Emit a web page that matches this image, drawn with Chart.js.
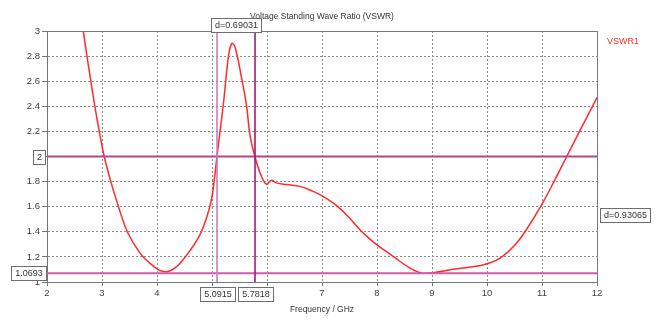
<!DOCTYPE html>
<html><head><meta charset="utf-8">
<script src="https://cdn.jsdelivr.net/npm/chart.js@4.4.0/dist/chart.umd.min.js"></script>
<style>html,body{margin:0;padding:0;background:#fff;}#wrap{width:656px;height:320px;}</style>
</head><body><div id="wrap"><canvas id="c" width="656" height="320"></canvas></div>
<script>
const freq = [2.66, 2.72, 2.79, 2.87, 2.95, 3.04, 3.16, 3.30, 3.46, 3.69, 3.87, 4.0, 4.08, 4.16, 4.24, 4.32, 4.42, 4.6, 4.78, 4.9, 4.99, 5.04, 5.09, 5.21, 5.30, 5.36, 5.42, 5.54, 5.63, 5.69, 5.78, 5.9, 5.99, 6.08, 6.17, 6.36, 6.6, 6.84, 7.02, 7.2, 7.33, 7.5, 7.69, 7.85, 8.0, 8.3, 8.6, 8.78, 8.9, 9.02, 9.45, 9.87, 10.0, 10.24, 10.5, 10.75, 11.0, 11.24, 11.45, 11.67, 11.93, 12.0];
const vswr = [3.0, 2.82, 2.62, 2.4, 2.2, 2.0, 1.8, 1.6, 1.4, 1.23, 1.15, 1.105, 1.088, 1.082, 1.09, 1.11, 1.15, 1.25, 1.376, 1.51, 1.656, 1.81, 2.0, 2.43, 2.8, 2.9, 2.87, 2.62, 2.4, 2.17, 2.0, 1.84, 1.78, 1.81, 1.79, 1.776, 1.762, 1.722, 1.682, 1.63, 1.585, 1.51, 1.416, 1.35, 1.296, 1.202, 1.11, 1.074, 1.0693, 1.074, 1.105, 1.13, 1.145, 1.19, 1.29, 1.44, 1.62, 1.82, 2.0, 2.19, 2.41, 2.47];
const seriesName = 'VSWR1';
const chartTitle = 'Voltage Standing Wave Ratio (VSWR)';
const xTitle = 'Frequency / GHz';
const markerFreq = [5.0915, 5.7818];
const markerFreqLabels = ['5.0915', '5.7818'];
const markerVswr = [2, 1.0693];
const markerVswrLabels = ['2', '1.0693'];
const deltaLabels = ['d=0.69031', 'd=0.93065'];

const FONT = '"Liberation Sans", Arial, sans-serif';

function box(ctx, text, cx, cy, alignRight) {
  ctx.font = '9px ' + FONT;
  const w = ctx.measureText(text).width + 7;
  const h = 14;
  let x0 = alignRight !== undefined ? alignRight - w : cx - w / 2;
  const y0 = cy - h / 2;
  ctx.fillStyle = '#fff';
  ctx.fillRect(Math.round(x0) + 0.5, Math.round(y0) + 0.5, Math.round(w), h);
  ctx.strokeStyle = '#6e6e6e';
  ctx.lineWidth = 1;
  ctx.strokeRect(Math.round(x0) + 0.5, Math.round(y0) + 0.5, Math.round(w), h);
  ctx.fillStyle = '#333';
  ctx.textAlign = 'center';
  ctx.textBaseline = 'middle';
  ctx.fillText(text, Math.round(x0) + 0.5 + Math.round(w) / 2, Math.round(y0) + 0.5 + h / 2 + 0.5);
}

const markerPlugin = {
  id: 'markers',
  afterDatasetsDraw(chart) {
    const {ctx, chartArea: a, scales: {x, y}} = chart;
    ctx.save();
    const hColors = ['#b3478f', '#cf5cab'];
    markerVswr.forEach((v, i) => {
      const py = y.getPixelForValue(v);
      ctx.strokeStyle = hColors[i]; ctx.lineWidth = 2;
      ctx.beginPath(); ctx.moveTo(a.left, py); ctx.lineTo(a.right, py); ctx.stroke();
    });
    const vColors = ['#c77cc7', '#a3177d'];
    markerFreq.forEach((f, i) => {
      const px = x.getPixelForValue(f);
      ctx.strokeStyle = vColors[i]; ctx.lineWidth = 1.6;
      ctx.beginPath(); ctx.moveTo(px, a.top); ctx.lineTo(px, a.bottom); ctx.stroke();
    });
    ctx.strokeStyle = '#7a7a7a'; ctx.lineWidth = 1;
    ctx.beginPath();
    ctx.moveTo(a.left, a.top + 0.5); ctx.lineTo(a.right + 0.5, a.top + 0.5); ctx.lineTo(a.right + 0.5, a.bottom);
    ctx.stroke();
    ctx.restore();
  },
  afterDraw(chart) {
    const {ctx, chartArea: a, scales: {x, y}} = chart;
    ctx.save();
    ctx.font = '8.5px ' + FONT;
    ctx.fillStyle = '#333';
    ctx.textAlign = 'center'; ctx.textBaseline = 'middle';
    ctx.fillText(chartTitle, (a.left + a.right) / 2, 16.5);
    ctx.font = '9px ' + FONT;
    ctx.fillStyle = '#ff3030';
    ctx.textAlign = 'left';
    ctx.fillText(seriesName, a.right + 10, 41.5);
    markerVswr.forEach((v, i) => {
      box(ctx, markerVswrLabels[i], 0, y.getPixelForValue(v), 45.5);
    });
    markerFreq.forEach((f, i) => {
      box(ctx, markerFreqLabels[i], x.getPixelForValue(f), 294);
    });
    const mx = (x.getPixelForValue(markerFreq[0]) + x.getPixelForValue(markerFreq[1])) / 2;
    box(ctx, deltaLabels[0], mx, 24.5);
    ctx.font = '9px ' + FONT;
    const w1 = ctx.measureText(deltaLabels[1]).width + 7;
    box(ctx, deltaLabels[1], a.right + 3 + w1 / 2, y.getPixelForValue((markerVswr[0] + markerVswr[1]) / 2));
    ctx.restore();
  }
};

new Chart(document.getElementById('c'), {
  type: 'line',
  data: {
    datasets: [{
      label: seriesName,
      data: freq.map((f, i) => ({x: f, y: vswr[i]})),
      borderColor: '#ff2a2a',
      borderWidth: 1.5,
      pointRadius: 0,
      fill: false,
      tension: 0.4
    }]
  },
  options: {
    responsive: false,
    devicePixelRatio: 1,
    animation: false,
    layout: {padding: {top: 31, right: 59, left: 0, bottom: 0}},
    plugins: {legend: {display: false}, title: {display: false}, tooltip: {enabled: false}},
    scales: {
      x: {
        type: 'linear', min: 2, max: 12,
        afterFit(s) { s.height = 38; },
        ticks: {stepSize: 1, font: {family: FONT, size: 9.5}, color: '#404040', padding: 2, maxRotation: 0},
        grid: {color: '#8a8a8a', tickLength: 4, tickColor: '#777', tickBorderDash: []},
        border: {color: '#777', dash: [2, 2]},
        title: {display: true, text: xTitle, font: {family: FONT, size: 8.5}, color: '#333', padding: {top: 0, bottom: 5}}
      },
      y: {
        min: 1, max: 3,
        afterFit(s) { s.width = 47; },
        ticks: {stepSize: 0.2, font: {family: FONT, size: 9.5}, color: '#404040', padding: 2,
          callback: v => Number(v.toFixed(1)).toString()},
        grid: {color: '#8a8a8a', tickLength: 5, tickColor: '#777', tickBorderDash: []},
        border: {color: '#777', dash: [2, 2]}
      }
    }
  },
  plugins: [markerPlugin]
});
</script>
</body></html>
